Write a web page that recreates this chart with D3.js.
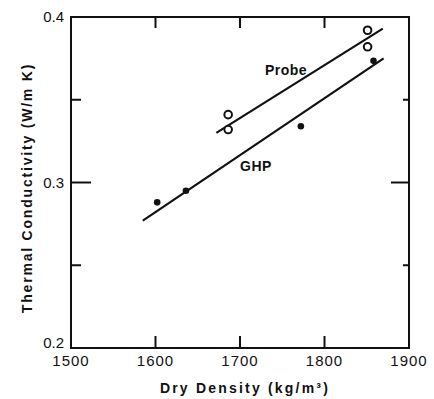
<!DOCTYPE html>
<html><head><meta charset="utf-8">
<script src="https://cdn.jsdelivr.net/npm/d3@7"></script>
<style>body{margin:0;background:#fff}svg{display:block}text{font-family:"Liberation Sans",Arial,sans-serif;fill:#111}</style>
</head><body><svg width="434" height="399"></svg>
<script>
const probeX = [1686, 1686, 1851, 1851];
const probeY = [0.341, 0.332, 0.392, 0.382];
const ghpX = [1602, 1636, 1772, 1858];
const ghpY = [0.288, 0.295, 0.334, 0.3735];
const probeFitX = [1672, 1869];
const probeFitY = [0.330, 0.393];
const ghpFitX = [1585, 1870];
const ghpFitY = [0.277, 0.375];
const xTicks = [1500, 1600, 1700, 1800, 1900];
const yTicks = [0.2, 0.3, 0.4];
const yMinor = [0.25, 0.35];
const xLabel = "Dry Density (kg/m³)";
const yLabel = "Thermal Conductivity (W/m K)";

const svg = d3.select("svg");
const x = d3.scaleLinear().domain([1500, 1900]).range([71, 409]);
const y = d3.scaleLinear().domain([0.2, 0.4]).range([348, 17]);
const ink = "#111";

const g = svg.append("g");
g.append("rect").attr("x", x(1500)).attr("y", y(0.4))
  .attr("width", x(1900) - x(1500)).attr("height", y(0.2) - y(0.4))
  .attr("fill", "none").attr("stroke", ink).attr("stroke-width", 2);

// inner ticks
const inner = xTicks.slice(1, -1);
g.selectAll(".tb").data(inner).join("line")
  .attr("x1", d => x(d)).attr("x2", d => x(d)).attr("y1", y(0.2)).attr("y2", y(0.2) - 12)
  .attr("stroke", ink).attr("stroke-width", 2);
g.selectAll(".tt").data(inner).join("line")
  .attr("x1", d => x(d)).attr("x2", d => x(d)).attr("y1", y(0.4)).attr("y2", y(0.4) + 11)
  .attr("stroke", ink).attr("stroke-width", 2);
g.selectAll(".tl").data([0.3]).join("line")
  .attr("x1", x(1500)).attr("x2", x(1500) + 20).attr("y1", d => y(d)).attr("y2", d => y(d))
  .attr("stroke", ink).attr("stroke-width", 2);
g.selectAll(".tr").data([0.3]).join("line")
  .attr("x1", x(1900)).attr("x2", x(1900) - 18).attr("y1", d => y(d)).attr("y2", d => y(d))
  .attr("stroke", ink).attr("stroke-width", 2);
g.selectAll(".tlm").data(yMinor).join("line")
  .attr("x1", x(1500)).attr("x2", x(1500) + 10).attr("y1", d => y(d)).attr("y2", d => y(d))
  .attr("stroke", ink).attr("stroke-width", 2);
g.selectAll(".trm").data(yMinor).join("line")
  .attr("x1", x(1900)).attr("x2", x(1900) - 6).attr("y1", d => y(d)).attr("y2", d => y(d))
  .attr("stroke", ink).attr("stroke-width", 2);

// tick labels
g.selectAll(".xl").data(xTicks).join("text")
  .attr("x", d => x(d)).attr("y", 366).attr("text-anchor", "middle")
  .attr("font-size", 15).attr("letter-spacing", 1).text(d => d);
g.selectAll(".yl").data(yTicks).join("text")
  .attr("x", 64).attr("y", d => y(d) + (d === 0.2 ? 0 : 5)).attr("text-anchor", "end")
  .attr("font-size", 15).text(d => d.toFixed(1));

// axis titles
g.append("text").attr("x", 245).attr("y", 393).attr("text-anchor", "middle")
  .attr("font-size", 14).attr("font-weight", "bold").attr("letter-spacing", 2.2).text(xLabel);
g.append("text").attr("transform", "translate(32,188) rotate(-90)").attr("text-anchor", "middle")
  .attr("font-size", 14).attr("font-weight", "bold").attr("letter-spacing", 1.8).text(yLabel);

// fit lines
const line = d3.line().x(d => x(d[0])).y(d => y(d[1]));
g.append("path").attr("d", line(d3.zip(probeFitX, probeFitY))).attr("fill", "none")
  .attr("stroke", ink).attr("stroke-width", 2.2);
g.append("path").attr("d", line(d3.zip(ghpFitX, ghpFitY))).attr("fill", "none")
  .attr("stroke", ink).attr("stroke-width", 2.2);

// points
g.selectAll(".pp").data(d3.zip(probeX, probeY)).join("circle")
  .attr("cx", d => x(d[0])).attr("cy", d => y(d[1])).attr("r", 3.8)
  .attr("fill", "#fff").attr("stroke", ink).attr("stroke-width", 2);
g.selectAll(".gp").data(d3.zip(ghpX, ghpY)).join("circle")
  .attr("cx", d => x(d[0])).attr("cy", d => y(d[1])).attr("r", 3.3)
  .attr("fill", ink);

// series labels
g.append("text").attr("x", 286).attr("y", 75).attr("text-anchor", "middle")
  .attr("font-size", 14).attr("font-weight", "bold").attr("letter-spacing", 0.5).text("Probe");
g.append("text").attr("x", 256).attr("y", 171).attr("text-anchor", "middle")
  .attr("font-size", 14).attr("font-weight", "bold").attr("letter-spacing", 0.5).text("GHP");
</script></body></html>
